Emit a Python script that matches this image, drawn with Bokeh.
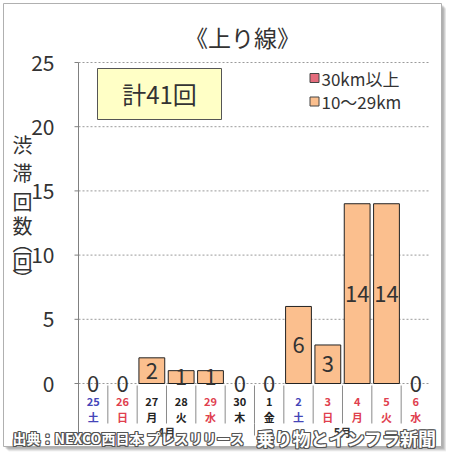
from bokeh.plotting import figure
from bokeh.models import Range1d
from bokeh.core.properties import value
from bokeh.embed import file_html
from bokeh.resources import INLINE

# ---- data ----
days = ["25", "26", "27", "28", "29", "30", "1", "2", "3", "4", "5", "6"]
weekdays = ["土", "日", "月", "火", "水", "木", "金", "土", "日", "月", "火", "水"]
holidays = ["29", "3", "4", "5", "6"]
months = ["4月", "5月"]
month_sizes = [6, 6]
series_names = ["30km以上", "10～29km"]
over30 = [0, 0, 0, 0, 0, 0, 0, 0, 0, 0, 0, 0]
mid = [0, 0, 2, 1, 1, 0, 0, 6, 3, 14, 14, 0]
y_ticks = [0, 5, 10, 15, 20, 25]
title_text = "《上り線》"
y_label_chars = ["渋", "滞", "回", "数", "︵", "回", "︶"]
watermark_left = "出典：NEXCO西日本 プレスリリース"
watermark_right = "乗り物とインフラ新聞"

# ---- layout / style ----
FONT = "Noto Sans CJK JP"
C_OVER = "#E46C7C"
C_MID = "#FBBF8E"
TXT = "#333333"
W, H = 446, 452          # figure size (page origin 0,0)
X0, XS = 78.0, 29.333    # page x of category axis start, px per category
Y0, YS = 383.0, 12.84    # page y of value 0, px per unit


def px(page_x):
    return (page_x - X0) / XS


def py(page_y):
    return (Y0 - page_y) / YS


n = len(days)
xs = [i + 0.5 for i in range(n)]
total = sum(over30) + sum(mid)

p = figure(width=W, height=H,
           x_range=Range1d(px(0), px(W)), y_range=Range1d(py(H), py(0)),
           output_backend="svg", toolbar_location=None,
           x_axis_location=None, y_axis_location=None,
           min_border=0, min_border_left=0, min_border_right=0,
           min_border_top=0, min_border_bottom=0, title=None)
p.outline_line_color = None
p.grid.visible = False
p.background_fill_color = "white"
p.border_fill_color = "white"

# chart-area frame with soft shadow
for d, a in [(5, 0.12), (4, 0.18), (3, 0.25), (2, 0.3)]:
    p.quad(left=[px(3 + d)], right=[px(441 + d)], top=[py(3 + d)], bottom=[py(446 + d)],
           fill_color="#808080", fill_alpha=a, line_color=None)
p.quad(left=[px(3)], right=[px(441)], top=[py(3)], bottom=[py(446)],
       fill_color="white", line_color="#b0b0b0", line_width=1)

ytop = max(y_ticks)
yb_short = py(423)
yb_long = py(435)

# gridlines (dashed)
p.segment(x0=[0] * len(y_ticks), y0=y_ticks, x1=[px(428)] * len(y_ticks), y1=y_ticks,
          line_color="#9a9a9a", line_dash="2 2", line_width=1)
# value axis line + ticks + labels
p.segment(x0=[0], y0=[yb_long], x1=[0], y1=[ytop], line_color="#808080", line_width=1)
p.segment(x0=[px(X0 - 4)] * len(y_ticks), y0=y_ticks, x1=[0] * len(y_ticks), y1=y_ticks,
          line_color="#808080", line_width=1)
p.text(x=[px(X0 - 24)] * len(y_ticks), y=y_ticks, text=[str(t) for t in y_ticks],
       text_align="right", text_baseline="middle", text_font=value(FONT),
       text_font_size="21px", text_color=TXT)


# bars (stacked: over30 at bottom, mid above)
def bar_data(bottoms, heights):
    idx = [i for i in range(n) if heights[i] > 0]
    return dict(x=[xs[i] for i in idx],
                bottom=[bottoms[i] for i in idx],
                top=[bottoms[i] + heights[i] for i in idx])


zeros = [0] * n
p.vbar(source=bar_data(zeros, over30), x="x", bottom="bottom", top="top", width=0.88,
       fill_color=C_OVER, line_color="#222222", line_width=1)
p.vbar(source=bar_data(over30, mid), x="x", bottom="bottom", top="top", width=0.88,
       fill_color=C_MID, line_color="#222222", line_width=1)

# value labels for the 10~29km series
p.text(x=xs, y=[over30[i] + mid[i] / 2 for i in range(n)], text=[str(v) for v in mid],
       text_align="center", text_baseline="middle", text_font=value(FONT),
       text_font_size="22px", text_color=TXT)

# category separators
seps = list(range(1, n))
p.segment(x0=seps, y0=[py(385)] * len(seps), x1=seps, y1=[yb_short] * len(seps),
          line_color="#8a8a8a", line_width=1)
bounds = []
acc = 0
for s in month_sizes[:-1]:
    acc += s
    bounds.append(acc)
p.segment(x0=bounds, y0=[yb_short] * len(bounds), x1=bounds, y1=[yb_long] * len(bounds),
          line_color="#8a8a8a", line_width=1)


# day / weekday labels
def day_color(d, w):
    if w == "日" or d in holidays:
        return "#E0404E"
    if w == "土":
        return "#4545B8"
    return "#222222"


cols = [day_color(d, w) for d, w in zip(days, weekdays)]
p.text(x=xs, y=[py(401)] * n, text=days, text_color=cols, text_align="center",
       text_baseline="middle", text_font=value(FONT), text_font_size="11px",
       text_font_style="bold")
p.text(x=xs, y=[py(416)] * n, text=weekdays, text_color=cols, text_align="center",
       text_baseline="middle", text_font=value(FONT), text_font_size="11px",
       text_font_style="bold")

mx = []
start = 0
for s in month_sizes:
    mx.append(start + s / 2)
    start += s
p.text(x=mx, y=[py(431)] * len(months), text=months, text_align="center",
       text_baseline="middle", text_font=value(FONT), text_font_size="11px",
       text_font_style="bold", text_color=TXT)

# total box
p.quad(left=[px(97)], right=[px(221)], top=[py(68)], bottom=[py(119)],
       fill_color="#FFFFC6", line_color="#555555", line_width=1)
p.text(x=[px(159)], y=[py(93)], text=["計%d回" % total], text_align="center",
       text_baseline="middle", text_font=value(FONT), text_font_size="24px", text_color=TXT)

# legend
leg_y = [py(77.5), py(101)]
p.scatter(x=[px(314)] * 2, y=leg_y, marker="square", size=9,
          fill_color=[C_OVER, C_MID], line_color="#444444")
p.text(x=[px(321)] * 2, y=leg_y, text=series_names, text_align="left", text_baseline="middle",
       text_font=value(FONT), text_font_size="17px", text_color=TXT)

# title
p.text(x=[px(242)], y=[py(36)], text=[title_text], text_align="center", text_baseline="middle",
       text_font=value(FONT), text_font_size="23px", text_color=TXT)

# vertical y-axis title
ylab_y = [144, 172, 201, 225, 242, 261, 278]
p.text(x=[px(22)] * len(y_label_chars), y=[py(v) for v in ylab_y], text=y_label_chars,
       text_align="center", text_baseline="middle", text_font=value(FONT),
       text_font_size="20px", text_color=TXT)

# watermark (white text with dark outline)
wm = [(watermark_left, px(12), "left", "14px"), (watermark_right, px(436), "right", "18px")]
for txt, x, align, size in wm:
    for dx, dy in [(-1, 0), (1, 0), (0, -1), (0, 1), (1, 1), (-1, -1), (1, -1), (-1, 1)]:
        p.text(x=[x], y=[py(437)], x_offset=dx, y_offset=dy, text=[txt], text_align=align,
               text_baseline="middle", text_font=value(FONT), text_font_size=size,
               text_font_style="bold", text_color="#555555")
    p.text(x=[x], y=[py(437)], text=[txt], text_align=align, text_baseline="middle",
           text_font=value(FONT), text_font_size=size, text_font_style="bold",
           text_color="white")

open("out.html", "w").write(file_html(p, INLINE))
